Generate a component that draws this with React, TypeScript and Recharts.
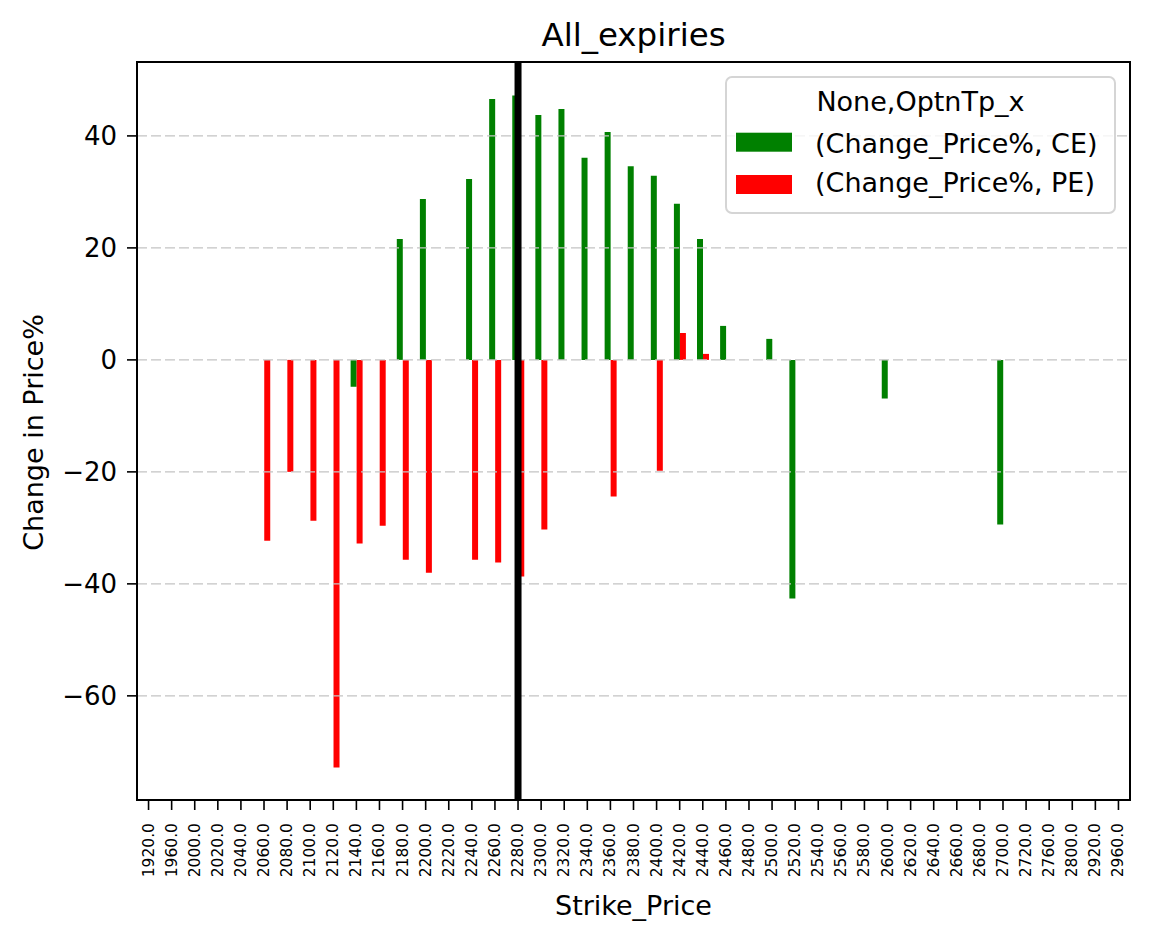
import React from "react";
import {
  Bar,
  BarChart,
  Legend,
  ReferenceArea,
  ReferenceLine,
  XAxis,
  YAxis,
} from "recharts";

// strike prices shown on the x axis
const strikes = [
  "1920.0", "1960.0", "2000.0", "2020.0", "2040.0", "2060.0", "2080.0", "2100.0",
  "2120.0", "2140.0", "2160.0", "2180.0", "2200.0", "2220.0", "2240.0", "2260.0",
  "2280.0", "2300.0", "2320.0", "2340.0", "2360.0", "2380.0", "2400.0", "2420.0",
  "2440.0", "2460.0", "2480.0", "2500.0", "2520.0", "2540.0", "2560.0", "2580.0",
  "2600.0", "2620.0", "2640.0", "2660.0", "2680.0", "2700.0", "2720.0", "2760.0",
  "2800.0", "2920.0", "2960.0",
];

// (Change_Price%, CE)
const ceChange = [
  null, null, null, null, null, null, null, null,
  null, -4.8, null, 21.6, 28.75, null, 32.3, 46.6,
  47.2, 43.75, 44.8, 36.1, 40.7, 34.6, 32.9, 27.9,
  21.6, 6.07, null, 3.75, -42.6, null, null, null,
  -6.9, null, null, null, null, -29.4, null, null,
  null, null, null,
];

// (Change_Price%, PE)
const peChange = [
  null, null, null, null, null, -32.3, -20.0, -28.75,
  -72.8, -32.8, -29.6, -35.7, -38.0, null, -35.7, -36.2,
  -38.7, -30.3, null, null, -24.4, null, -19.8, 4.8,
  1.07, null, null, null, null, null, null, null,
  null, null, null, null, null, null, null, null,
  null, null, null,
];

const yTicks = [-60, -40, -20, 0, 20, 40];
const yDomain = [-78.6, 53.2];
const atmStrike = "2280.0";

const data = strikes.map((strike, i) => ({
  strike,
  ce: ceChange[i],
  pe: peChange[i],
}));

const FONT = "'DejaVu Sans', sans-serif";

const fmtY = (v: number) => (v < 0 ? `\u2212${Math.abs(v)}` : `${v}`);

function StrikeTick(props: any) {
  const { x, y, payload } = props;
  const ty = y + 11;
  return (
    <text
      x={x}
      y={ty}
      transform={`rotate(-90 ${x} ${ty})`}
      textAnchor="end"
      dominantBaseline="central"
      fontSize={15.5}
      fontFamily={FONT}
      fill="#000"
    >
      {payload.value}
    </text>
  );
}

function LegendBox({ payload }: any) {
  const rows = payload || [];
  return (
    <svg width={391} height={138} style={{ display: "block" }}>
      <rect x={1} y={1} width={389} height={136} rx={6} fill="#fff" fillOpacity={0.8} stroke="#d5d5d5" strokeWidth={2} />
      <text x={195.5} y={34.7} textAnchor="middle" fontSize={27} fontFamily={FONT} fill="#000">
        None,OptnTp_x
      </text>
      {rows.map((item: any, i: number) => (
        <g key={item.value}>
          <rect x={11} y={56.7 + i * 42.3} width={56} height={19} fill={item.color} />
          <text x={90} y={76.7 + i * 39} fontSize={27} fontFamily={FONT} fill="#000">
            {item.value}
          </text>
        </g>
      ))}
    </svg>
  );
}

export default function App() {
  return (
    <div style={{ position: "absolute", left: 0, top: 0, width: 1149, height: 939, background: "#fff", fontFamily: FONT }}>
      <BarChart
        width={1149}
        height={939}
        data={data}
        margin={{ top: 62, right: 19, bottom: 0, left: 0 }}
        barCategoryGap="25%"
        barGap={0}
      >
        <text x={633.5} y={45.7} textAnchor="middle" fontSize={32.5} fontFamily={FONT} fill="#000">
          All_expiries
        </text>
        <XAxis
          dataKey="strike"
          interval={0}
          height={139}
          tick={<StrikeTick />}
          tickSize={10}
          tickLine={{ stroke: "#000", strokeWidth: 1.6 }}
          axisLine={{ stroke: "#000", strokeWidth: 2 }}
          label={{
            content: () => (
              <text x={633.5} y={915} textAnchor="middle" fontSize={27} fontFamily={FONT} fill="#000">
                Strike_Price
              </text>
            ),
          }}
        />
        <YAxis
          type="number"
          domain={yDomain}
          ticks={yTicks}
          allowDataOverflow
          width={137}
          tickFormatter={fmtY}
          tick={{ fontSize: 26, fill: "#000", fontFamily: FONT }}
          tickSize={10}
          tickMargin={10}
          tickLine={{ stroke: "#000", strokeWidth: 1.6 }}
          axisLine={{ stroke: "#000", strokeWidth: 2 }}
          label={{
            content: () => (
              <text
                x={33}
                y={432.5}
                transform="rotate(-90 33 432.5)"
                textAnchor="middle"
                dominantBaseline="central"
                fontSize={27}
                fontFamily={FONT}
                fill="#000"
              >
                Change in Price%
              </text>
            ),
          }}
        />
        <Bar dataKey="ce" name="(Change_Price%, CE)" fill="#008000" isAnimationActive={false} />
        <Bar dataKey="pe" name="(Change_Price%, PE)" fill="#ff0000" isAnimationActive={false} />
        {yTicks.map((t) => (
          <ReferenceLine key={t} y={t} stroke="#c4c4c4" strokeWidth={1.4} strokeDasharray="10 4" />
        ))}
        <ReferenceLine x={atmStrike} stroke="#000" strokeWidth={7} />
        <ReferenceArea
          x1={strikes[0]}
          x2={strikes[strikes.length - 1]}
          y1={yDomain[0]}
          y2={yDomain[1]}
          fill="none"
          fillOpacity={0}
          stroke="#000"
          strokeWidth={2}
          ifOverflow="visible"
        />
        <Legend
          layout="vertical"
          align="center"
          verticalAlign="middle"
          content={<LegendBox />}
          wrapperStyle={{ left: 725, top: 76, width: 391, height: 138 }}
        />
      </BarChart>
    </div>
  );
}
